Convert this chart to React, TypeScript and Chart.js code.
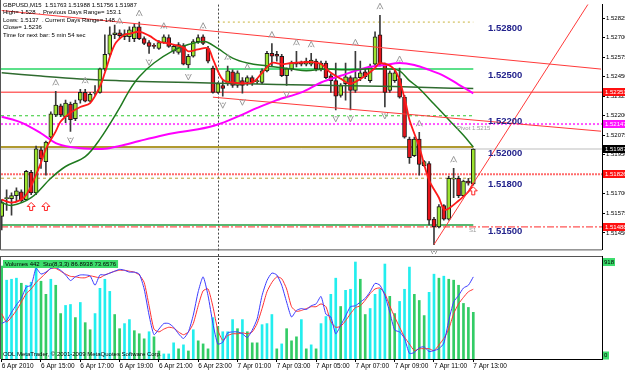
import React, { useEffect, useRef } from 'react';
import { Chart, registerables } from 'chart.js';
Chart.register(...registerables);

const FONT = "'Liberation Sans', Arial, sans-serif";

// ---------------- data ----------------
const timeLabels = ['6 Apr 2010', '6 Apr 15:00', '6 Apr 17:00', '6 Apr 19:00', '6 Apr 21:00', '6 Apr 23:00', '7 Apr 01:00', '7 Apr 03:00', '7 Apr 05:00', '7 Apr 07:00', '7 Apr 09:00', '7 Apr 11:00', '7 Apr 13:00'];
const timeLabelBars = [0, 8, 16, 24, 32, 40, 48, 56, 64, 72, 80, 88, 96];

const opens = [
  1.51556, 1.51669, 1.51669, 1.51688, 1.51713, 1.51663, 1.51838, 1.51706, 1.51981, 1.51906,
  1.52063, 1.52206, 1.52263, 1.52194, 1.52275, 1.52181, 1.52300, 1.52350, 1.52294, 1.52344,
  1.52350, 1.52500, 1.52594, 1.52719, 1.52731, 1.52706, 1.52706, 1.52694, 1.52769, 1.52694,
  1.52669, 1.52650, 1.52631, 1.52669, 1.52700, 1.52613, 1.52606, 1.52650, 1.52525, 1.52581,
  1.52675, 1.52706, 1.52631, 1.52506, 1.52350, 1.52394, 1.52406, 1.52481, 1.52394, 1.52425,
  1.52413, 1.52444, 1.52419, 1.52413, 1.52488, 1.52600, 1.52594, 1.52581, 1.52456, 1.52500,
  1.52538, 1.52544, 1.52531, 1.52531, 1.52550, 1.52500, 1.52538, 1.52456, 1.52425, 1.52331,
  1.52406, 1.52444, 1.52363, 1.52444, 1.52481, 1.52425, 1.52531, 1.52719, 1.52531, 1.52363,
  1.52425, 1.52438, 1.52319, 1.52050, 1.51944, 1.52050, 1.51881, 1.51894, 1.51538, 1.51488,
  1.51625, 1.51538, 1.51794, 1.51800, 1.51688, 1.51781, 1.51763];
const highs = [
  1.51663, 1.51725, 1.51706, 1.51738, 1.51725, 1.51850, 1.51850, 1.52006, 1.52000, 1.52038,
  1.52225, 1.52356, 1.52275, 1.52300, 1.52288, 1.52300, 1.52369, 1.52369, 1.52350, 1.52394,
  1.52506, 1.52719, 1.52769, 1.52781, 1.52750, 1.52750, 1.52769, 1.52788, 1.52800, 1.52706,
  1.52681, 1.52663, 1.52681, 1.52719, 1.52719, 1.52656, 1.52669, 1.52663, 1.52594, 1.52688,
  1.52719, 1.52719, 1.52644, 1.52519, 1.52413, 1.52425, 1.52519, 1.52494, 1.52488, 1.52444,
  1.52456, 1.52456, 1.52438, 1.52500, 1.52613, 1.52663, 1.52613, 1.52594, 1.52506, 1.52550,
  1.52613, 1.52550, 1.52569, 1.52600, 1.52563, 1.52550, 1.52550, 1.52469, 1.52538, 1.52406,
  1.52538, 1.52456, 1.52613, 1.52550, 1.52500, 1.52531, 1.52738, 1.52844, 1.52538, 1.52488,
  1.52500, 1.52506, 1.52331, 1.52063, 1.52063, 1.52094, 1.51913, 1.51906, 1.51550, 1.51631,
  1.51631, 1.51813, 1.51863, 1.51813, 1.51788, 1.51800, 1.51988];
const lows = [
  1.51469, 1.51594, 1.51563, 1.51656, 1.51644, 1.51656, 1.51694, 1.51694, 1.51863, 1.51819,
  1.52056, 1.52194, 1.52194, 1.52156, 1.52100, 1.52169, 1.52281, 1.52288, 1.52288, 1.52331,
  1.52344, 1.52488, 1.52581, 1.52694, 1.52694, 1.52688, 1.52675, 1.52675, 1.52688, 1.52656,
  1.52600, 1.52631, 1.52625, 1.52663, 1.52638, 1.52600, 1.52594, 1.52525, 1.52506, 1.52575,
  1.52663, 1.52656, 1.52538, 1.52344, 1.52344, 1.52325, 1.52394, 1.52381, 1.52381, 1.52344,
  1.52394, 1.52394, 1.52406, 1.52406, 1.52481, 1.52519, 1.52550, 1.52450, 1.52394, 1.52488,
  1.52513, 1.52519, 1.52519, 1.52519, 1.52488, 1.52488, 1.52438, 1.52350, 1.52238, 1.52319,
  1.52300, 1.52238, 1.52350, 1.52425, 1.52438, 1.52413, 1.52519, 1.52519, 1.52256, 1.52350,
  1.52413, 1.52313, 1.52056, 1.51894, 1.51938, 1.51819, 1.51875, 1.51500, 1.51375, 1.51481,
  1.51531, 1.51531, 1.51675, 1.51675, 1.51681, 1.51756, 1.51756];
const closes = [
  1.51644, 1.51675, 1.51688, 1.51719, 1.51656, 1.51844, 1.51706, 1.51988, 1.51925, 1.52031,
  1.52213, 1.52269, 1.52206, 1.52281, 1.52175, 1.52281, 1.52350, 1.52294, 1.52338, 1.52350,
  1.52500, 1.52594, 1.52719, 1.52731, 1.52713, 1.52725, 1.52750, 1.52769, 1.52694, 1.52663,
  1.52644, 1.52644, 1.52669, 1.52706, 1.52644, 1.52644, 1.52656, 1.52531, 1.52581, 1.52675,
  1.52700, 1.52663, 1.52550, 1.52350, 1.52406, 1.52375, 1.52488, 1.52394, 1.52475, 1.52394,
  1.52444, 1.52413, 1.52425, 1.52488, 1.52600, 1.52581, 1.52581, 1.52456, 1.52500, 1.52538,
  1.52531, 1.52531, 1.52550, 1.52556, 1.52500, 1.52538, 1.52444, 1.52425, 1.52325, 1.52394,
  1.52450, 1.52363, 1.52444, 1.52475, 1.52450, 1.52519, 1.52706, 1.52531, 1.52350, 1.52475,
  1.52475, 1.52319, 1.52063, 1.51931, 1.52050, 1.51888, 1.51906, 1.51531, 1.51488, 1.51619,
  1.51538, 1.51800, 1.51800, 1.51688, 1.51781, 1.51769, 1.51987];

const volumes = [
  880, 746, 755, 765, 717, 698, 727, 880, 736, 612,
  755, 698, 430, 507, 516, 392, 535, 344, 277, 430,
  669, 755, 640, 421, 287, 335, 373, 268, 239, 191,
  258, 210, 76, 48, 48, 153, 96, 134, 76, 277,
  172, 143, 96, 392, 306, 258, 258, 373, 287, 373,
  258, 153, 153, 325, 335, 421, 96, 143, 287, 172,
  210, 373, 96, 134, 96, 335, 402, 612, 765, 497,
  650, 660, 918, 755, 421, 478, 612, 660, 899, 593,
  430, 545, 660, 870, 612, 554, 411, 631, 803, 765,
  784, 755, 746, 698, 526, 488, 442];
const volumeColorKeys = 'GCCCGCCCGG' + 'CGGCCGCGGC' + 'CCCGGCCGGG' + 'CGGCCCGCGC' + 'GGGCGCCCGC' +
  'GGGCCCGCGG' + 'GCGCGCCCCG' + 'CCCGGCCCCG' + 'GCCCGGGCCG' + 'CGGGGGG';

const stochMain = [
  37, 40, 49, 57, 64, 76, 78, 96, 90, 92, 96, 97, 94, 89, 83, 87, 89, 89, 88, 78,
  89, 89, 91, 93, 95, 94, 92, 92, 90, 74, 46, 25, 31, 37, 37, 33, 26, 21, 28, 46,
  71, 87, 67, 37, 15, 17, 27, 28, 28, 26, 22, 30, 42, 67, 83, 91, 89, 78, 60, 44,
  51, 53, 52, 56, 58, 66, 47, 44, 26, 35, 45, 55, 56, 60, 64, 71, 80, 78, 67, 49,
  30, 28, 21, 5, 6, 11, 12, 7, 8, 10, 16, 40, 60, 67, 75, 78, 86.9];
const stochSignal = [
  47.5, 38.6, 44, 51, 60, 69, 74, 81, 86, 91, 96, 96, 93, 90, 87.5, 87, 86, 86, 88, 87,
  86, 89, 91, 93, 94, 94, 93, 92, 89, 81, 56, 31, 28, 31, 33, 32, 28, 25, 28, 37,
  56, 72, 74, 55, 30, 19, 24, 26, 26, 27, 26, 28, 37, 53, 71, 81, 87, 85, 74, 55,
  50, 51, 53, 55, 55, 58, 55, 39, 33, 34, 40, 47.5, 54, 56, 62, 69, 74, 75, 69, 56,
  44, 33, 22.5, 15, 8, 10, 10, 10, 8, 14, 21, 31, 47.5, 58, 65, 71, 73.7];

const fastMaBars = [0, 2, 4, 5, 6, 8, 9, 11, 12, 14, 16, 18, 20, 21, 23, 25, 26, 28, 30, 32, 34, 37, 38, 40, 42, 43, 45, 47, 51, 53, 55, 57, 59, 63, 65, 67, 69, 71, 74, 76, 77, 80, 82, 83, 85, 87, 89, 90, 91, 93, 95, 96];
const fastMaValues = [1.51663, 1.51644, 1.51663, 1.51694, 1.51750, 1.51900, 1.51988, 1.52100, 1.52163, 1.52219, 1.52256, 1.52281, 1.52388, 1.52475, 1.52656, 1.52719, 1.52725, 1.52738, 1.52713, 1.52675, 1.52663, 1.52638, 1.52613, 1.52625, 1.52631, 1.52563, 1.52431, 1.52413, 1.52413, 1.52475, 1.52538, 1.52531, 1.52538, 1.52544, 1.52531, 1.52475, 1.52438, 1.52406, 1.52456, 1.52506, 1.52538, 1.52494, 1.52313, 1.52175, 1.52000, 1.51788, 1.51675, 1.51600, 1.51606, 1.51656, 1.51713, 1.51769];
const midMaBars = [0, 2, 6, 10, 13, 17, 20, 24, 26, 28, 31, 35, 38, 41, 42, 44, 47, 50, 54, 59, 62, 66, 70, 74, 79, 81, 83, 85, 88, 91, 94, 96];
const midMaValues = [1.51644, 1.51625, 1.51675, 1.51800, 1.51875, 1.51938, 1.52050, 1.52250, 1.52363, 1.52450, 1.52538, 1.52619, 1.52656, 1.52675, 1.52669, 1.52631, 1.52569, 1.52538, 1.52519, 1.52500, 1.52488, 1.52500, 1.52494, 1.52500, 1.52500, 1.52488, 1.52425, 1.52375, 1.52275, 1.52175, 1.52075, 1.52000];
const slowMaBars = [0, 4, 8, 11, 14, 18, 21, 24, 28, 32, 36, 40, 44, 48, 52, 56, 61, 65, 69, 74, 78, 81, 84, 87, 90, 93, 96];
const slowMaValues = [1.52194, 1.52156, 1.52088, 1.52025, 1.52000, 1.51988, 1.51988, 1.52006, 1.52038, 1.52069, 1.52094, 1.52113, 1.52144, 1.52194, 1.52250, 1.52300, 1.52350, 1.52413, 1.52456, 1.52506, 1.52525, 1.52538, 1.52525, 1.52494, 1.52456, 1.52400, 1.52344];
const longMaBars = [0, 8, 16, 24, 33, 44, 56, 68, 80, 90, 96];
const longMaValues = [1.52475, 1.52454, 1.52436, 1.52425, 1.52416, 1.52409, 1.52400, 1.52394, 1.52388, 1.52378, 1.52375];

const levelPrices = [1.528, 1.525, 1.522, 1.52, 1.518, 1.515, 1.52351, 1.52147, 1.51987, 1.51826, 1.51488];
const levelFromBar = [44, null, null, null, null, null, null, null, null, null, null];
const levelToBar = [96, 96, 96, 96, 96, 96, null, null, null, null, null];
const roundLevelPrices = [1.528, 1.525, 1.522, 1.52, 1.518, 1.515];
const priceTagValues = [1.52351, 1.52147, 1.51987, 1.51826, 1.51488];
const priceTicks = [1.5145, 1.51575, 1.517, 1.51825, 1.5195, 1.52075, 1.522, 1.52325, 1.5245, 1.52575, 1.527, 1.52825];

const trendFromBar = [0, 43, 88];
const trendFromPrice = [1.52874, 1.52319, 1.51375];
const trendToBar = [122, 122, 122];
const trendToPrice = [1.52499, 1.52101, 1.53044];

const fractalUpBars = [11, 17, 24, 28, 33, 41, 46, 50, 55, 60, 63, 72, 77, 81, 85, 92];
const fractalDownBars = [14, 30, 38, 45, 49, 58, 68, 71, 78, 88];
const signalBars = [6, 9, 96];
const signalPrices = [1.51619, 1.51619, 1.51719];
const daySeparatorBars = [44];

const headerLeft = ['GBPUSD,M15  1.51763 1.51988 1.51756 1.51987', 'High= 1.528  .', 'Lows: 1.5137  . .', 'Close= 1.5236', 'Time for next bar: 5 min 54 sec'];
const headerRight = ['', 'Previous Days Range= 153.1', 'Current Days Range= 148', '', ''];
const pivotText = 'Pivot 1.5215';
const pivotPrice = 1.52147;
const s1Text = 'S1';
const s1Price = 1.51488;
const volumeHeader = 'Volumes 442  Sto(8,3,3) 86.8938 73.6576';
const copyrightText = 'ODL MetaTrader, \u00A9 2001-2009 MetaQuotes Software Corp.';
const volumeTopLabel = 918;

// ---------------- layout / style ----------------
const X_MIN = -0.1425;
const X_MAX = 122.2;
const Y_MIN = 1.51344;
const Y_MAX = 1.52912;

const levelColors = ['#C8B43C', '#5CE08A', '#2EC82E', '#B09A30', '#B8A030', '#20A040', '#FF2020', '#FF55FF', '#BDBDBD', '#FF6B6B', '#FF2A2A'];
const levelDashes = [[2, 3], [], [3, 3], [], [3, 3], [], [], [2, 2], [], [2, 1], [7, 2, 2, 2]];
const levelWidths = [1, 2, 1, 2, 1, 1.5, 1, 2, 1, 2, 1];
const tagColors = ['#FF1010', '#FF10FF', '#000000', '#FF1010', '#FF1010'];

function chevron(ctx: CanvasRenderingContext2D, x: number, y: number, up: boolean) {
  const d = up ? 1 : -1;
  ctx.beginPath();
  ctx.moveTo(x - 3, y + 3 * d);
  ctx.lineTo(x, y - 3 * d);
  ctx.lineTo(x + 3, y + 3 * d);
  ctx.moveTo(x - 1, y + 2 * d);
  ctx.lineTo(x + 1, y + 2 * d);
  ctx.stroke();
}

function hollowArrow(ctx: CanvasRenderingContext2D, x: number, y: number) {
  ctx.beginPath();
  ctx.moveTo(x, y - 4);
  ctx.lineTo(x + 4, y);
  ctx.lineTo(x + 1.5, y);
  ctx.lineTo(x + 1.5, y + 4);
  ctx.lineTo(x - 1.5, y + 4);
  ctx.lineTo(x - 1.5, y);
  ctx.lineTo(x - 4, y);
  ctx.closePath();
  ctx.stroke();
}

const mainOverlay = {
  id: 'mainOverlay',
  beforeDatasetsDraw(chart: any) {
    const { ctx, chartArea, scales } = chart;
    ctx.save();
    ctx.strokeStyle = '#444';
    ctx.lineWidth = 1;
    ctx.setLineDash([2, 2]);
    daySeparatorBars.forEach((b) => {
      const px = Math.round(scales.x.getPixelForValue(b)) + 0.5;
      ctx.beginPath();
      ctx.moveTo(px, chartArea.top);
      ctx.lineTo(px, chartArea.bottom + 1);
      ctx.stroke();
    });
    ctx.restore();
  },
  afterDatasetsDraw(chart: any) {
    const { ctx, scales } = chart;
    const x = scales.x, y = scales.y;
    ctx.save();
    // fractals
    ctx.strokeStyle = '#9a9a9a';
    ctx.lineWidth = 1;
    fractalUpBars.forEach((b) => chevron(ctx, x.getPixelForValue(b), y.getPixelForValue(highs[b]) - 9, true));
    fractalDownBars.forEach((b) => chevron(ctx, x.getPixelForValue(b), y.getPixelForValue(lows[b]) + 9, false));
    // signal arrows
    ctx.strokeStyle = '#FF2020';
    signalBars.forEach((b, i) => hollowArrow(ctx, x.getPixelForValue(b), y.getPixelForValue(signalPrices[i])));
    // round level texts
    ctx.fillStyle = '#22228C';
    ctx.font = `bold 9.5px ${FONT}`;
    ctx.textBaseline = 'middle';
    ctx.textAlign = 'left';
    roundLevelPrices.forEach((p) => ctx.fillText(p.toFixed(5), 488, y.getPixelForValue(p) + 6));
    // pivot / S1
    ctx.fillStyle = '#999';
    ctx.font = `6px ${FONT}`;
    ctx.fillText(pivotText, 457, y.getPixelForValue(pivotPrice) + 4.5);
    ctx.fillText(s1Text, 469, y.getPixelForValue(s1Price) + 3);
    // header
    ctx.fillStyle = '#000';
    ctx.font = `6px ${FONT}`;
    headerLeft.forEach((t, i) => ctx.fillText(t, 3, 5 + i * 7.5));
    headerRight.forEach((t, i) => { if (t) ctx.fillText(t, i === 1 ? 43 : 45, 5 + i * 7.5); });
    ctx.restore();
  },
  afterDraw(chart: any) {
    const { ctx, chartArea, scales } = chart;
    const y = scales.y;
    ctx.save();
    ctx.font = `6px ${FONT}`;
    ctx.textBaseline = 'middle';
    priceTagValues.forEach((p, i) => {
      const py = y.getPixelForValue(p);
      ctx.fillStyle = tagColors[i];
      ctx.fillRect(chartArea.right + 1, Math.round(py) - 4, 24, 8);
      ctx.fillStyle = '#fff';
      ctx.fillText(p.toFixed(5), chartArea.right + 3, Math.round(py));
    });
    // frame
    ctx.strokeStyle = '#555';
    ctx.lineWidth = 1;
    ctx.beginPath();
    ctx.moveTo(0.5, 0);
    ctx.lineTo(0.5, chartArea.bottom + 0.5);
    ctx.lineTo(chartArea.right, chartArea.bottom + 0.5);
    ctx.stroke();
    ctx.restore();
  },
};

const subOverlay = {
  id: 'subOverlay',
  beforeDatasetsDraw(chart: any) {
    const { ctx, chartArea, scales } = chart;
    ctx.save();
    ctx.strokeStyle = '#444';
    ctx.lineWidth = 1;
    ctx.setLineDash([2, 2]);
    daySeparatorBars.forEach((b) => {
      const px = Math.round(scales.x.getPixelForValue(b)) + 0.5;
      ctx.beginPath();
      ctx.moveTo(px, 0);
      ctx.lineTo(px, chartArea.bottom);
      ctx.stroke();
    });
    ctx.restore();
  },
  afterDraw(chart: any) {
    const { ctx, chartArea, scales } = chart;
    ctx.save();
    ctx.font = `6px ${FONT}`;
    ctx.textBaseline = 'middle';
    ctx.textAlign = 'left';
    // header box
    const w = ctx.measureText(volumeHeader).width + 4;
    ctx.fillStyle = '#3CDC6C';
    ctx.fillRect(3, 6, w, 8);
    ctx.fillStyle = '#000';
    ctx.fillText(volumeHeader, 5, 10);
    // copyright
    ctx.fillText(copyrightText, 3, 100);
    // volume scale labels
    const yTop = scales.yv.getPixelForValue(volumeTopLabel);
    const yZero = scales.yv.getPixelForValue(0);
    ctx.fillStyle = '#3CDC6C';
    ctx.fillRect(chartArea.right + 1, yTop - 4, 12, 8);
    ctx.fillRect(chartArea.right + 1, yZero - 7.5, 6, 8);
    ctx.fillStyle = '#000';
    ctx.fillText(String(volumeTopLabel), chartArea.right + 2, yTop);
    ctx.fillText('0', chartArea.right + 2, yZero - 3.5);
    // frame
    ctx.strokeStyle = '#555';
    ctx.lineWidth = 1;
    ctx.beginPath();
    ctx.moveTo(0, chartArea.top + 0.5);
    ctx.lineTo(chartArea.right, chartArea.top + 0.5);
    ctx.moveTo(0.5, chartArea.top);
    ctx.lineTo(0.5, chartArea.bottom);
    ctx.stroke();
    ctx.strokeStyle = '#000';
    ctx.beginPath();
    ctx.moveTo(chartArea.right + 0.5, chartArea.top);
    ctx.lineTo(chartArea.right + 0.5, chartArea.bottom);
    ctx.stroke();
    ctx.restore();
  },
};

function lineDs(bars: number[], values: number[], color: string, width: number, order: number) {
  return {
    type: 'line',
    data: bars.map((b, i) => ({ x: b, y: values[i] })),
    borderColor: color,
    borderWidth: width,
    pointRadius: 0,
    tension: 0.35,
    order,
  };
}

function buildMainConfig(): any {
  const levelDs = levelPrices.map((p, i) => ({
    type: 'line',
    data: [
      { x: levelFromBar[i] ?? X_MIN, y: p },
      { x: levelToBar[i] ?? X_MAX, y: p },
    ],
    borderColor: levelColors[i],
    borderWidth: levelWidths[i],
    borderDash: levelDashes[i],
    pointRadius: 0,
    order: 20,
  }));
  const trendDs = trendFromBar.map((b, i) => ({
    type: 'line',
    data: [
      { x: b, y: trendFromPrice[i] },
      { x: trendToBar[i], y: trendToPrice[i] },
    ],
    borderColor: '#FF3A3A',
    borderWidth: 1,
    pointRadius: 0,
    order: 1,
  }));
  const wicks = {
    type: 'bar',
    data: opens.map((_, i) => ({ x: i, y: [lows[i], highs[i]] })),
    backgroundColor: '#3a3a3a',
    barThickness: 1,
    grouped: false,
    order: 8,
  };
  const bodies = {
    type: 'bar',
    data: opens.map((o, i) => ({ x: i, y: [o, closes[i]] })),
    backgroundColor: opens.map((o, i) => (closes[i] >= o ? '#9CE330' : '#E8141B')),
    borderColor: '#1a1a1a',
    borderWidth: 1,
    borderSkipped: false,
    barThickness: 4,
    minBarLength: 1,
    grouped: false,
    order: 7,
  };
  return {
    type: 'bar',
    data: {
      datasets: [
        ...levelDs,
        wicks,
        bodies,
        lineDs(longMaBars, longMaValues, '#2F6B2F', 1.5, 5),
        lineDs(slowMaBars, slowMaValues, '#FF00FF', 2, 4),
        lineDs(midMaBars, midMaValues, '#1F7A1F', 1.5, 3),
        lineDs(fastMaBars, fastMaValues, '#FF1A1A', 1.8, 2),
        ...trendDs,
      ],
    },
    options: {
      animation: false,
      responsive: true,
      maintainAspectRatio: false,
      layout: { padding: { left: 1, right: 0, top: 2, bottom: 1 } },
      plugins: { legend: { display: false }, tooltip: { enabled: false } },
      scales: {
        x: { type: 'linear', min: X_MIN, max: X_MAX, display: false, offset: false, grid: { offset: false } },
        y: {
          type: 'linear',
          position: 'right',
          min: Y_MIN,
          max: Y_MAX,
          afterFit: (s: any) => { s.width = 23; },
          afterBuildTicks: (s: any) => { s.ticks = priceTicks.map((v) => ({ value: v })); },
          ticks: {
            autoSkip: false,
            color: '#000',
            padding: 1,
            font: { size: 6, family: FONT },
            callback: (v: any) => Number(v).toFixed(5),
          },
          grid: { drawOnChartArea: false, tickLength: 3, color: '#000' },
          border: { display: true, color: '#000' },
        },
      },
    },
    plugins: [mainOverlay],
  };
}

function buildSubConfig(): any {
  return {
    type: 'bar',
    data: {
      datasets: [
        {
          type: 'bar',
          yAxisID: 'yv',
          data: volumes.map((v, i) => ({ x: i, y: v })),
          backgroundColor: volumes.map((_, i) => (volumeColorKeys[i] === 'C' ? '#22EEEE' : '#33CC66')),
          barThickness: 2,
          grouped: false,
          order: 5,
        },
        {
          type: 'line',
          yAxisID: 'ys',
          data: stochSignal.map((v, i) => ({ x: i, y: v })),
          borderColor: '#FF3030',
          borderWidth: 1,
          pointRadius: 0,
          tension: 0.2,
          order: 2,
        },
        {
          type: 'line',
          yAxisID: 'ys',
          data: stochMain.map((v, i) => ({ x: i, y: v })),
          borderColor: '#3A3AFF',
          borderWidth: 1,
          pointRadius: 0,
          tension: 0.2,
          order: 1,
        },
      ],
    },
    options: {
      animation: false,
      responsive: true,
      maintainAspectRatio: false,
      layout: { padding: { left: 1, right: 23, top: 2, bottom: 0 } },
      plugins: { legend: { display: false }, tooltip: { enabled: false } },
      scales: {
        x: {
          type: 'linear',
          min: X_MIN,
          max: X_MAX,
          offset: false,
          position: 'bottom',
          afterFit: (s: any) => { s.height = 11; },
          afterBuildTicks: (s: any) => { s.ticks = timeLabelBars.map((v) => ({ value: v })); },
          ticks: {
            autoSkip: false,
            maxRotation: 0,
            align: 'start',
            padding: 0,
            color: '#000',
            font: { size: 6.5, family: FONT },
            callback: (v: any) => timeLabels[timeLabelBars.indexOf(Number(v))] ?? '',
          },
          grid: { drawOnChartArea: false, tickLength: 3, color: '#000', offset: false },
          border: { display: true, color: '#000' },
        },
        yv: { type: 'linear', display: false, min: 0, max: 975 },
        ys: { type: 'linear', display: false, min: -1, max: 109.3 },
      },
    },
    plugins: [subOverlay],
  };
}

export default function App() {
  const mainRef = useRef<HTMLCanvasElement>(null);
  const subRef = useRef<HTMLCanvasElement>(null);
  useEffect(() => {
    document.body.style.margin = '0';
    Chart.defaults.font.family = FONT;
    const c1 = new Chart(mainRef.current as HTMLCanvasElement, buildMainConfig());
    const c2 = new Chart(subRef.current as HTMLCanvasElement, buildSubConfig());
    return () => {
      c1.destroy();
      c2.destroy();
    };
  }, []);
  return (
    <div style={{ position: 'relative', width: 625, height: 370, background: '#fff', overflow: 'hidden' }}>
      <div style={{ position: 'absolute', left: 0, top: 0, width: 625, height: 254 }}>
        <canvas ref={mainRef} />
      </div>
      <div style={{ position: 'absolute', left: 0, top: 254, width: 625, height: 116 }}>
        <canvas ref={subRef} />
      </div>
    </div>
  );
}
